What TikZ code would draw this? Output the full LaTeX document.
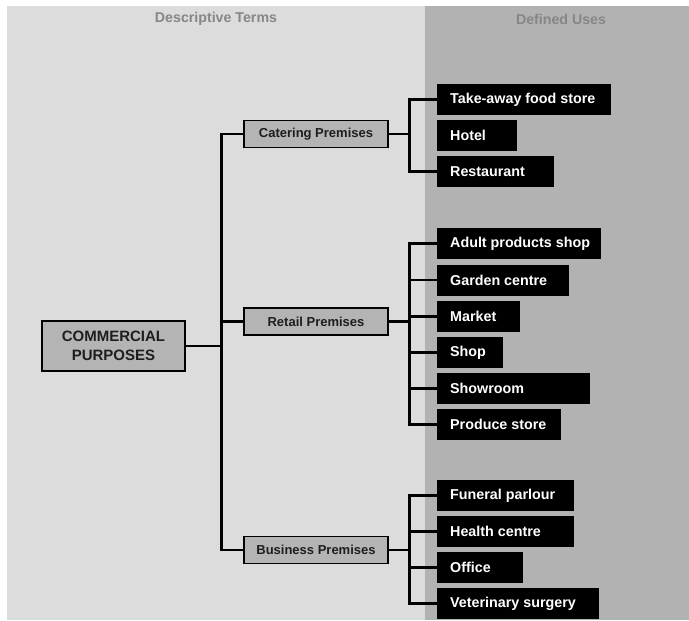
\documentclass[tikz,border=0pt]{standalone}
\usepackage{fontspec}
\setmainfont{Liberation Sans}
\definecolor{bglight}{HTML}{DCDCDC}
\definecolor{bgdark}{HTML}{B2B2B2}
\definecolor{boxfill}{HTML}{B4B4B4}
\definecolor{headgrey}{HTML}{868686}
\definecolor{midtext}{HTML}{1E1E1E}
\newcommand\leafnode[4]{%
  \node[leafbox, minimum width=#3pt] (#1) at (437,#2) {\makebox[\dimexpr #3pt-26pt\relax][l]{#4}};}
\begin{document}
\begin{tikzpicture}[x=1pt,y=-1pt,
  leafbox/.style={fill=black, text=white, font=\bfseries\fontsize{14.3}{16}\selectfont,
    anchor=west, minimum height=31pt, inner xsep=13pt, inner ysep=0pt},
  midbox/.style={draw=black, line width=1.5pt, fill=boxfill, text=midtext,
    font=\bfseries\fontsize{13}{15}\selectfont, minimum width=144pt, minimum height=27pt, inner sep=0pt},
  rootbox/.style={draw=black, line width=1.5pt, fill=boxfill, text=midtext,
    font=\bfseries\fontsize{15}{19}\selectfont, minimum width=143pt, minimum height=50pt,
    align=center, inner sep=0pt},
  header/.style={text=headgrey, font=\bfseries\fontsize{14.2}{16}\selectfont},
  conn/.style={draw=black, line width=2.6pt}]
\useasboundingbox (0,0) rectangle (689,621);
\fill[white] (0,0) rectangle (689,621);
\fill[bglight] (7,6) rectangle (425,620);
\fill[bgdark] (425,6) rectangle (689,620);
\node[header] (h1) at (216,19) {Descriptive Terms};
\node[header] (h2) at (561,19) {Defined Uses};

\node[rootbox] (cp) at (113.5,346) {COMMERCIAL\\PURPOSES};
\node[midbox] (cat) at (316,134) {Catering Premises};
\node[midbox] (ret) at (316,321.5) {Retail Premises};
\node[midbox] (bus) at (316,550) {Business Premises};

\leafnode{ta}{99.5}{174}{Take-away food store}
\leafnode{ho}{135.5}{80}{Hotel}
\leafnode{re}{171.5}{117}{Restaurant}
\leafnode{ad}{243.5}{164}{Adult products shop}
\leafnode{ga}{280}{132}{Garden centre}
\leafnode{ma}{316.5}{83}{Market}
\leafnode{sh}{352.5}{66}{Shop}
\leafnode{so}{388.5}{153}{Showroom}
\leafnode{pr}{424.5}{124}{Produce store}
\leafnode{fu}{495.5}{137}{Funeral parlour}
\leafnode{he}{531.5}{137}{Health centre}
\leafnode{of}{567.5}{86}{Office}
\leafnode{ve}{603.5}{162}{Veterinary surgery}

\coordinate (tr) at (221.5,349);
\coordinate (br) at (409.5,0);

% trunk
\draw[conn] (cp.east) -- (cp.east -| tr);
\draw[conn] (cat.west) -- (cat.west -| tr) -- (bus.west -| tr) -- (bus.west);
\draw[conn] (ret.west) -- (ret.west -| tr);

% catering branch
\draw[conn] (cat.east) -- (cat.east -| br);
\draw[conn] (ta.west) -- (ta.west -| br) -- (re.west -| br) -- (re.west);

% retail branch
\draw[conn] (ret.east) -- (ret.east -| br);
\draw[conn] (ad.west) -- (ad.west -| br) -- (pr.west -| br) -- (pr.west);
\foreach \n in {ga,ma,sh,so} \draw[conn] (\n.west -| br) -- (\n.west);

% business branch
\draw[conn] (bus.east) -- (bus.east -| br);
\draw[conn] (fu.west) -- (fu.west -| br) -- (ve.west -| br) -- (ve.west);
\foreach \n in {he,of} \draw[conn] (\n.west -| br) -- (\n.west);
\end{tikzpicture}
\end{document}
